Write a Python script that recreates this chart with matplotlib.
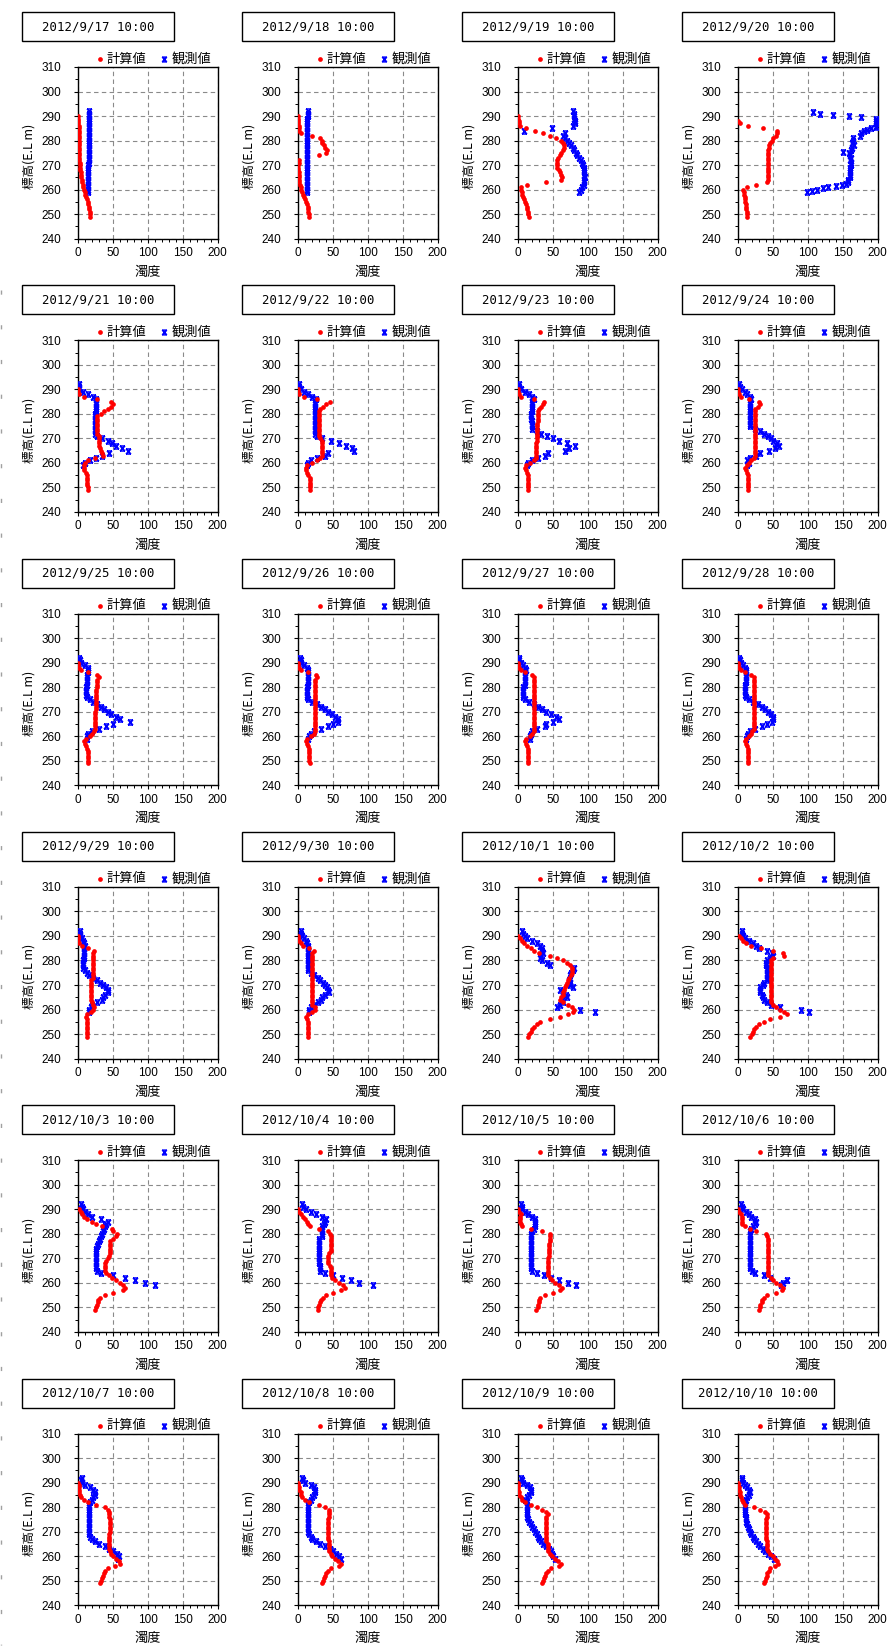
import numpy as np
import matplotlib
matplotlib.use("Agg")
import matplotlib.pyplot as plt
from matplotlib.patches import Rectangle
from matplotlib.lines import Line2D
from matplotlib.path import Path
from matplotlib.ticker import MultipleLocator

plt.rcParams['font.family'] = ['Liberation Sans', 'Noto Sans CJK JP', 'DejaVu Sans']

nan = np.nan

dates = ["2012/9/17 10:00", "2012/9/18 10:00", "2012/9/19 10:00", "2012/9/20 10:00",
         "2012/9/21 10:00", "2012/9/22 10:00", "2012/9/23 10:00", "2012/9/24 10:00",
         "2012/9/25 10:00", "2012/9/26 10:00", "2012/9/27 10:00", "2012/9/28 10:00",
         "2012/9/29 10:00", "2012/9/30 10:00", "2012/10/1 10:00", "2012/10/2 10:00",
         "2012/10/3 10:00", "2012/10/4 10:00", "2012/10/5 10:00", "2012/10/6 10:00",
         "2012/10/7 10:00", "2012/10/8 10:00", "2012/10/9 10:00", "2012/10/10 10:00"]

# elevations (E.L m)
calc_h = list(range(249, 291))   # 計算値 levels
obs_h = list(range(259, 293))    # 観測値 levels

# ---- 計算値 (calculated turbidity), 249 .. 290 m ----
c0917 = [17,17,17,16.5,16,15,14,13,12,11,10,9,8,7,6,5.5,5,4.5,4,3.5,3,2.8,2.6,2.5,2.4,2.3,2.2,2.1,2,2,1.9,1.8,1.7,1.6,1.5,1.4,1.3,1.2,1.1,1,1,0.8]
c0918 = [15.5,15.5,15,14.5,14,13.5,12.5,11,9.5,8,6.5,5,4,3.2,2.5,2,1.6,1.4,1.2,1,1,1,1.5,2.5,nan,30,40,42,39.5,37,35,34,32,20.5,5,2,1.5,1.2,1,1,0.8,0.5]
c0919 = [15.7,15.2,14.8,13.8,13.3,12,10.5,9,8,6.7,5.7,4.8,5.2,12.9,40,62.4,63,62,60.5,58.6,56.7,55.7,55.7,56,57.6,60,62,64,65.5,66,65,62,55,46,36,25,12.4,3.3,2,1.5,1,0.5]
c0920 = [13.8,13.3,12.9,12.4,12,11.4,11,10.5,10,9.5,8.6,8,13,26,41.5,43,43,43,43,43,43,43,43,43,43,43,43,43,44,45,46,48.6,51,54,56,56,36,14,3,0.5,nan,nan]
c0921 = [14,14.6,13.4,13.4,13.4,13.4,12.6,12,9.3,8.5,9,11,14,25,36,35,33,31.7,30,30,30,30,30,28,28,28,28,28,28,28,28,33,38,43,47.6,51,47.6,27,8.5,2,0.5,0]
c0922 = [17,17,17,17,17,17,15.4,13.8,12,11.4,13,21,27,32.5,35,34,34,34,34,34,34,32.5,31,31,31,31,31,31,31,31,31,31,31,32.5,35.8,40.6,45.5,27.6,9,2.4,0.8,0]
c0923 = [14.6,14.6,14.6,14.6,14.6,14.6,14.6,13.8,11.4,9.8,12,17,22.8,26,26.8,26.8,26.8,26.8,26.8,26.8,27,27,27,27,27,27,27,27.6,28.5,28.5,28.5,28.5,28.5,30.9,33,36.6,37.4,22.8,4.9,1.6,0.8,0]
c0924 = [14.6,14.6,14.6,14.6,14.6,14.6,14.6,13.8,12.2,10.6,13,16,19.5,22.8,24.4,24.4,24.4,24.4,24.4,24.4,24.4,24.4,24.4,24.4,24.4,24.4,24.4,24.4,24.4,24.4,24.4,24.4,24.4,24.4,29,32.5,31,16,4,2.4,0.8,0]
c0925 = [14,14,14,14,14,14,13.4,12,10,9.3,12,17,21,23,24,24,24,24,24,24,24,24,25.6,25.6,25.6,25.6,25.6,25.6,25.6,25.6,25.6,27,27,27,27,30,27,14,4.5,1.2,0.5,0]
c0926 = [17,16,16,16,16,16,16,14.6,13,12,13,18.7,22.8,25,24.4,24.4,24.4,24.4,24.4,24.4,24.4,24.4,24.4,24.4,25,25,25,25,25,25,25,25,25,25,25,27.6,26,14.6,4.9,2,0.8,0]
c0927 = [14.6,14.6,14.6,14.6,14.6,14.6,14.6,13.8,12,10.6,12,17,21,23.6,22.8,22.8,22.8,22.8,22.8,22.8,22.8,22.8,22.8,22.8,22.8,22.8,22.8,22.8,22.8,22.8,22.8,22.8,22.8,22.8,22.8,22.8,21,10.6,4,1.6,0.8,0]
c0928 = [14.6,14.6,14.6,14.6,14.6,14.6,14.6,13,11.4,10.6,12,16,19.5,21,22.8,22.8,22.8,22.8,22.8,22.8,22.8,22.8,22.8,22.8,22.8,22.8,22.8,22.8,22.8,22.8,22.8,22.8,22.8,22.8,22.8,22.8,19.5,9.8,4,1.6,0.8,0]
c0929 = [12.9,12.9,12.9,12.9,12.9,12.9,12.9,12.9,12,13.8,18.6,22.4,23.3,21.4,20.5,19,19,19,19,19,19,19,19,19,21.4,21.4,21.4,21.4,21.4,21.4,21.4,21.4,21.4,21.4,21.4,22.8,15.2,5.7,2.4,1,0.5,0]
c0930 = [14.6,14.6,14.6,14.6,14.6,14.6,14.6,13,12,14.6,21,25,24.4,21,20.3,20.3,20.3,20.3,20.3,20.3,20.3,20.3,21,21,21,21,21,21,21,21,21,21,21,21,21,22.8,16,8,4,2,0.8,0]
c1001 = [15.2,16.7,18.6,21,23.3,27,32,46,60,72,79.5,81,78,72,65,61,62.4,64,65,66.7,67.6,69,70,72,73.8,75.7,77,78,77,74.8,70,65,55.7,46,31,23.3,18.6,13.8,9.5,6.7,3.3,1]
c1002 = [18,20,22,23.6,26,30.9,38,46,60,70.7,66.7,60,54.5,50,47.6,47.6,47.6,47.6,47.6,47.6,47.6,47.6,47.6,47.6,47.6,47.6,47.6,47.6,47.6,47.6,47.6,47.6,50,66.7,65,50,33.3,19.5,11.4,7.3,4,1.6]
c1003 = [24.8,26.4,28,28.9,29.7,31.3,38.6,50.8,64.6,68,65.4,60.6,55,49,44.3,41,39.4,39.4,39.4,39.4,41,42.7,45,46.7,46.7,46.7,46.7,46.7,46.7,50.8,55,56.5,50.8,49,34.6,26.4,20,12.6,8.5,6,4.5,2]
c1004 = [28.5,29,31,31.7,33.3,35.8,40.6,51,61.8,67.5,65,59,53.6,49.6,47,47,47,47,45.5,43,43,43,43,44.7,47,47,47,47,47,47,47,45.5,43,31,17,14.6,13,10.6,8,4.9,2.4,0.8]
c1005 = [26.8,28.5,29.3,30,30.8,32.5,39,51,61,63.4,59,53.6,48.8,45.5,43,43,43,43,43,43,43,43,44.7,44.7,44.7,44.7,44.7,44.7,45.5,45.5,45.5,45.5,35,18.7,6.5,4,3.3,3,3.3,4,2.4,0.8]
c1006 = [30,31.7,32.5,34,35,38,42,54.5,62.6,65,60,54.5,50,47.6,43.5,43.5,43.5,43.5,43.5,43.5,43.5,43.5,43.5,43.5,43.5,43.5,43.5,43.5,43.5,43.5,42,40.6,26,18,9.8,6.5,5.7,5.7,5.7,4,2.4,0.8]
c1007 = [32,33,34.6,35.5,37,38.6,42.7,53,60.5,59.7,55,50.8,47.6,46,45,45,45,45,45,45,45,46.7,46.7,46.7,46.7,46.7,46.7,45,45,45,42.7,38.6,26.4,14,8.5,4.5,3,2,2,2,1.2,0.5]
c1008 = [35,36.6,37.4,39,40.6,43,47,59,61.8,57.7,53.6,49.6,47,44.7,44.7,44.7,44.7,44.7,43,43,43,43,43,43,43,43,43,44.7,44.7,44.7,44.7,39,31,16,10.6,6.5,4.9,4,2.4,1.6,0.8,0]
c1009 = [35,36.6,37.4,39,40.6,43,47,59,61.8,57.7,53.6,48.8,45.5,43,43,43,43,40.6,40.6,40.6,40.6,40.6,40.6,40.6,40.6,40.6,40.6,40.6,43,40.6,35,27,18.7,10.6,6.5,4,2.4,1.6,1,1,0.5,0]
c1010 = [38,39,40.5,41.4,42.4,44.3,46,53,58,56.7,53,50,46,43.8,41.4,41.4,41.4,41.4,40,40,40,40,40,40,40,40,40,42.4,41.4,39,32,23.3,10.5,8,6.7,5.2,3.8,2.9,1.9,1.4,1,0]

# ---- 観測値 (observed turbidity), 259 .. 292 m ----
o0917 = [14,14,14.5,14.5,14.5,15,15,15,15,15,15,15,15.5,15.5,15.5,15.5,15.5,15.5,15.5,16,16,16,16,16,16,16,16,16,16,16.5,16.5,16.5,16.5,16.5]
o0918 = [13,13,13,13,13,13,13.2,13.2,13.2,13.2,13.3,13.3,13.3,13.3,13.4,13.4,13.4,13.5,13.5,13.5,13.6,13.6,13.6,13.7,13.7,13.7,13.8,13.8,13.8,13.9,13.9,14,14,14]
o0919 = [88,90,92,94,95,95,95.7,95,95,95,94,93,91.4,90,88,85,83,81,78.6,75.7,73,70,67.6,65,67,9,49,79.5,81.5,81.5,81,80.5,81,79.5]
obs_h_0920 = [259,259.5,260,260.5,261,261.5,262,262.5,263,264,265,266,267,268,269,270,271,272,273,274,275,275.5,
              276,277,278,279,280,281,282,283,284,284.5,285,285.5,286,287,288,289,289.5,290,290.5,291,291.5]
o0920 = [98.6,106,113,122,129.5,140.5,148.6,155,157,158,160,160,161,161,161,162,162,161,162,161,159,151,
         162,163,166,163,164,165,174,176,180,185,191,197,198,198,198,198,176,159,136,118,107]
o0921 = [8,10,18,26.5,34.6,44,72,63,55,49,42.7,34.6,28,25,25,25,25,25,25,25,25,25,26.5,26.5,26.5,26.5,26.5,26,22,14,7,2,1.2,1.2]
o0922 = [13,14.6,18.7,27.6,39,43,80,77,69,59,47,35,27.6,24.4,25,25,25,25,25,25,25,25,25,25,25,25,25,26,21,14.6,9,4,2.4,1.6]
o0923 = [13,14.6,20,29,39,43,67,73,82,71,59,51,41.5,33,27,21,20.7,20.5,20,19.5,19.5,19.5,20,20.5,21,21,21,23,20,16,10.6,5,2.4,1.6]
o0924 = [13.8,16,13,18,26,32.5,44.7,52.8,58.5,56,51,47,43.9,38,32.5,24.4,18,18,18,18,18,18,18,18,18,18,18,19.5,18,13.8,9.8,5.7,3,1.6]
o0925 = [12.6,13.4,14,20,30.5,41,50.8,74,61,55,48,42.7,37,33,28,22,17,12.6,12,12,12,12,12.6,12.6,12.6,12.6,12.6,14,15,14,10,4.5,3,2]
o0926 = [15.4,16,18.7,22.8,33,43,51,57.7,57,53.6,48.8,43,39,33,27.6,21,14,13,13,13,13,13,14.6,14.6,14.6,14.6,14.6,14.6,14.6,13,9,5,4,3]
o0927 = [17,18,19,20,27,39,40.6,51,59,55,47,40.6,35,29,22.8,16,10.6,8,8,8,8,8,10.6,10.6,10.6,10.6,10.6,10.6,11.4,10.6,8,4,2.4,1.6]
o0928 = [12,13,14.6,18,24.4,34,42,48.8,51,50,47,43.5,38.6,34,28.4,21.9,16,11.4,9.8,9.8,9.8,9.8,9.8,11.4,11.4,11.4,11.4,11.4,12,10.6,8,4.9,3.5,2.4]
o0929 = [16.7,16.7,18.6,21,27,34.3,35.7,39,43.8,42.9,40.5,36.7,32,28,22.4,16.7,12.9,10.5,8,8,8,8,9.5,9.5,9.5,9.5,9.5,10.5,9.5,8,5.7,3.3,3.3,3.3]
o0930 = [16,16,18.7,22.8,28.5,33.3,35,39,44.7,43,41.5,39,35.8,32.5,28.5,22.8,18.7,14.6,14.6,14.6,14.6,14.6,14.6,14.6,14.6,14.6,14.6,14.6,13,11.4,9,6.5,5,4.9]
o1001 = [110,89,55.7,60.5,65,62.8,71,69,64,60.5,78.6,74.8,74,73,74,74.8,76,78.6,80.5,46,41.4,34.3,32,33.3,36.7,34.3,34.3,32,27,20,13.8,10.5,8,5.7]
o1002 = [102,90,60,47.6,42,38,35.8,34,32.5,31.7,32.5,35.8,38,42,42,42,42,42,42,39.8,40.6,42,46,50,48.8,42,30,26,22,16,9.8,7.3,6,5.7]
o1003 = [110,96,82,67,50,33,28,26.4,26.4,26.4,26.4,26.4,26.4,26.4,26.4,26.4,28,29.7,30.5,31.3,33,34.6,36,38,39.4,41,42.7,33,20.7,14,10,7.7,6,4.5]
o1004 = [108,87.8,75.6,63.4,51,39,32.5,32.5,32.5,31,31,31,31,31,31,31,31,31,31,31,35,35,35,35,35,37.4,39,40.6,35,26.8,18.7,12,8,6.5]
o1005 = [83.7,71.5,59,47,37.4,27,21,18.7,18.7,18.7,18.7,18.7,18.7,18.7,18.7,18.7,18.7,18.7,18.7,18.7,18.7,18.7,20,22.8,25,25,25,25,21,14.6,10.6,6.5,5.5,4.9]
o1006 = [62,65,70,46,38,24.4,20.3,18,18,18,18,18,18,18,18,18,18,18,18,18,18,18,18,19.5,22,24.4,26,24.4,19.5,16,11.4,8,6,4.9]
o1007 = [57,59,56.5,50.8,45,38.6,30.5,24,20,18,16.7,16,16,16,16,16,16,16,16,16,16,16,16.7,18,20,22,24,24,22,18,10,6,5,6]
o1008 = [61.8,59,55,51,45.5,39,32.5,26.8,21,18.7,16,14.6,14.6,14.6,14.6,14.6,14.6,14.6,14.6,14.6,14.6,14.6,14.6,16,18.7,21,22.8,24.4,24.4,22.8,18.7,10.6,8,6.5]
o1009 = [52.8,51,49.6,47,44.7,40.6,36.6,33.3,31,29,27,24.4,23,20.3,18.7,16,14.6,13,13,13,13,13,13,13,10.6,13,16,18.7,18.7,17,13,8,5.5,4.9]
o1010 = [52.4,47.6,43.8,39,35.7,32,29,26,23.8,21.4,19.5,17.6,15.7,14.3,13.3,12.4,12,11.4,11,10.5,10,10,10,10.5,12,13.8,16.7,17.6,16.7,13.8,10.5,7,6.7,5.7]

calc_series = [c0917, c0918, c0919, c0920, c0921, c0922, c0923, c0924, c0925, c0926, c0927, c0928,
               c0929, c0930, c1001, c1002, c1003, c1004, c1005, c1006, c1007, c1008, c1009, c1010]
obs_series = [o0917, o0918, o0919, o0920, o0921, o0922, o0923, o0924, o0925, o0926, o0927, o0928,
              o0929, o0930, o1001, o1002, o1003, o1004, o1005, o1006, o1007, o1008, o1009, o1010]
obs_levels = [obs_h_0920 if i == 3 else obs_h for i in range(24)]

legend_labels = ["計算値", "観測値"]
xlabel = "濁度"
ylabel = "標高(E.L m)"

# ---- marker resembling the spreadsheet "x" marker (x with bars) ----
xbar = Path([(-1, -1), (1, 1), (-1, 1), (1, -1), (-1, 1), (1, 1), (-1, -1), (1, -1)],
            [Path.MOVETO, Path.LINETO, Path.MOVETO, Path.LINETO,
             Path.MOVETO, Path.LINETO, Path.MOVETO, Path.LINETO])

W, H = 890, 1652
fig = plt.figure(figsize=(W / 100, H / 100), dpi=100)
fig.patch.set_facecolor('white')

AX_W, AX_H = 140.0, 171.7
RED, BLUE = '#ff0000', '#0000ff'

# faint dashed trace along the left border of the page
fig.add_artist(Line2D([0.6 / W, 0.6 / W], [1 - 290 / H, 1 - 1645 / H], transform=fig.transFigure,
                      color='#a0a0a0', lw=1.0, ls=(0, (3, 22))))

for i, date in enumerate(dates):
    r, c = divmod(i, 4)
    L = 77.7 + 220.0 * c
    T = 67.0 + 273.3 * r
    ax = fig.add_axes([L / W, 1 - (T + AX_H) / H, AX_W / W, AX_H / H])
    ax.set_xlim(0, 200)
    ax.set_ylim(240, 310)
    ax.xaxis.set_major_locator(MultipleLocator(50))
    ax.xaxis.set_minor_locator(MultipleLocator(10))
    ax.yaxis.set_major_locator(MultipleLocator(10))
    ax.yaxis.set_minor_locator(MultipleLocator(5))
    ax.grid(True, which='major', color='#8a8a8a', lw=0.8, ls=(0, (4, 3)))
    ax.set_axisbelow(True)
    for s in ax.spines.values():
        s.set_linewidth(1.0)
        s.set_color('black')
    ax.tick_params(axis='both', which='major', direction='out', length=3, width=0.8,
                   labelsize=8.5, colors='black')
    ax.tick_params(axis='y', which='major', pad=9)
    ax.tick_params(axis='x', which='major', pad=3)
    ax.tick_params(axis='both', which='minor', direction='out', length=2, width=0.7)

    ax.plot(obs_series[i], obs_levels[i], ls='none', marker=xbar, ms=3.6,
            mec=BLUE, mew=1.1, color=BLUE, zorder=3)
    ax.plot(calc_series[i], calc_h, ls='none', marker='o', ms=3.4,
            mec=RED, mfc=RED, mew=0, zorder=4)

    # legend above the plot
    ly = 1 + 8.0 / AX_H
    ax.plot([22.3 / AX_W], [ly], transform=ax.transAxes, marker='o', ms=3.4,
            mfc=RED, mec=RED, mew=0, clip_on=False, ls='none')
    ax.text(29.0 / AX_W, ly, legend_labels[0], transform=ax.transAxes, fontsize=9.5,
            ha='left', va='center', family=['Noto Sans CJK JP', 'DejaVu Sans'])
    ax.plot([86.3 / AX_W], [ly], transform=ax.transAxes, marker=xbar, ms=3.4,
            mec=BLUE, mew=1.1, clip_on=False, ls='none')
    ax.text(94.0 / AX_W, ly, legend_labels[1], transform=ax.transAxes, fontsize=9.5,
            ha='left', va='center', family=['Noto Sans CJK JP', 'DejaVu Sans'])

    # axis labels
    fig.text((L - 48.7) / W, 1 - (T + AX_H / 2 + 4) / H, ylabel, rotation=90,
             ha='center', va='center', fontsize=9,
             family=['Noto Sans CJK JP', 'DejaVu Sans'])
    fig.text((L + AX_W / 2) / W, 1 - (T + AX_H + 33.5) / H, xlabel,
             ha='center', va='center', fontsize=9.5,
             family=['Noto Sans CJK JP', 'DejaVu Sans'])

    # title box
    bx, by, bw, bh = L - 55.7, T - 55.0, 152.0, 29.0
    fig.add_artist(Rectangle((bx / W, 1 - (by + bh) / H), bw / W, bh / H,
                             transform=fig.transFigure, fill=False, lw=1.0, ec='black'))
    fig.text((bx + bw / 2) / W, 1 - (by + bh / 2) / H, date, ha='center', va='center',
             fontsize=8.9, family='DejaVu Sans Mono')

fig.savefig('out.png', dpi=100, facecolor='white')
